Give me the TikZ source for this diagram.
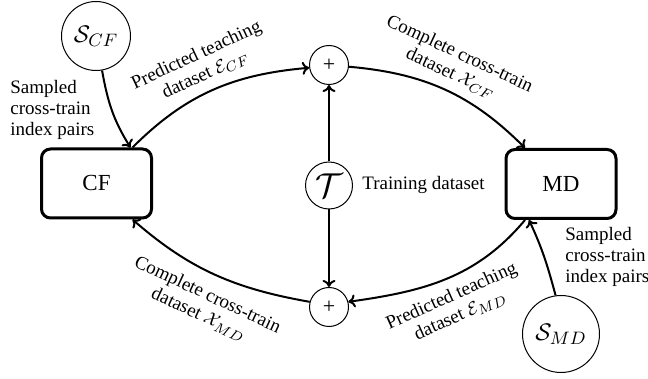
\documentclass[tikz,border=0pt]{standalone}
\usepackage{fontspec}
\setmainfont{Liberation Serif}
\usetikzlibrary{calc,arrows.meta}
\begin{document}
\begin{tikzpicture}[x=0.5pt,y=0.5pt,
  lbl/.style={font=\fontsize{9.5}{10.6}\selectfont, align=center, inner sep=0pt},
  box/.style={draw, line width=1.5pt, rounded corners=4.5pt, minimum width=55pt, minimum height=34.5pt, inner sep=0pt, font=\fontsize{11.5}{13}\selectfont},
  circ/.style={draw, circle, line width=0.5pt, inner sep=0pt},
  arr/.style={-{To[length=3.5pt,width=6.5pt]}, line width=1pt}]
\useasboundingbox (0,0) rectangle (648,-379);
% nodes
\node[box] (cf) at (96.5,-183.5) {CF};
\node[box] (md) at (561,-184) {MD};
\node[circ, minimum size=34.5pt, font=\fontsize{13}{15}\selectfont] (scf) at (96,-36) {$\mathcal{S}_{CF}$};
\node[circ, minimum size=38.5pt, font=\fontsize{13}{15}\selectfont] (smd) at (561,-334) {$\mathcal{S}_{MD}$};
\node[circ, minimum size=19.5pt, font=\fontsize{11}{12}\selectfont] (ptop) at (329,-65) {+};
\node[circ, minimum size=19.5pt, font=\fontsize{11}{12}\selectfont] (pbot) at (329,-307) {+};
\node[circ, minimum size=23.5pt, font=\fontsize{16}{18}\selectfont] (t) at (329,-185.5) {$\mathcal{T}$};
% labels
\node[lbl, align=left, anchor=west] (sl) at (10,-110) {Sampled\\cross-train\\index pairs};
\node[lbl, align=left, anchor=west] (sr) at (565,-257) {Sampled\\cross-train\\index pairs};
\node[lbl, anchor=west] (tl) at (362,-185) {Training dataset};
\node[lbl, rotate=25] (l1) at (201,-65) {Predicted teaching\\dataset $\mathcal{E}_{CF}$};
\node[lbl, rotate=-25] (l2) at (455,-64) {Complete cross-train\\dataset $\mathcal{X}_{CF}$};
\node[lbl, rotate=-25] (l3) at (203,-305) {Complete cross-train\\dataset $\mathcal{X}_{MD}$};
\node[lbl, rotate=24] (l4) at (456,-306) {Predicted teaching\\dataset $\mathcal{E}_{MD}$};
% connectors
\draw[arr] (scf.-80) to[out=-80,in=122] ($(cf.north)+(34,0)$);
\draw[arr] ($(cf.north)+(36,0)$) to[out=45,in=185] (ptop.188);
\draw[arr] (ptop.-5) to[out=-5,in=135] ($(md.north)+(-36,0)$);
\draw[arr] ($(md.south)+(-36,0)$) to[out=-130,in=8] (pbot.15);
\draw[arr] (smd.98) to[out=105,in=-65] ($(md.south)+(-32,0)$);
\draw[arr] (pbot.165) to[out=170,in=-41] ($(cf.south)+(36,0)$);
\draw[arr] (t.north) -- (ptop.south);
\draw[arr] (t.south) -- (pbot.north);
\end{tikzpicture}
\end{document}
